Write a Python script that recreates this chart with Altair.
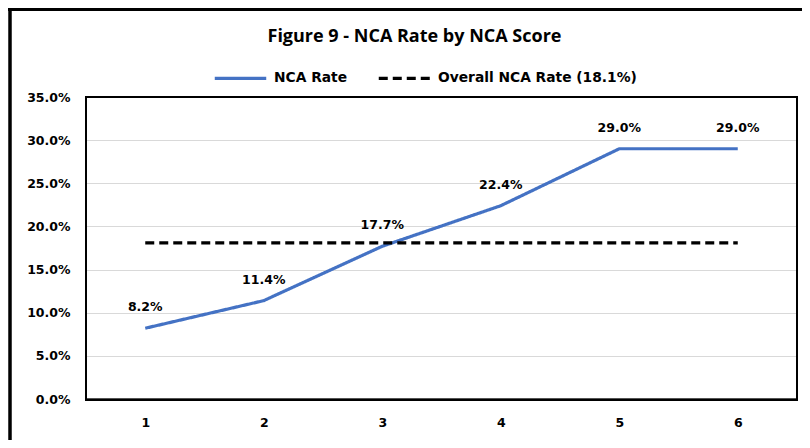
import altair as alt
import pandas as pd

scores = ["1", "2", "3", "4", "5", "6"]
nca_rate = [0.082, 0.114, 0.177, 0.224, 0.290, 0.290]
overall_rate = [0.181, 0.181, 0.181, 0.181, 0.181, 0.181]
series_names = ["NCA Rate", "Overall NCA Rate (18.1%)"]
y_ticks = [0, 0.05, 0.10, 0.15, 0.20, 0.25, 0.30, 0.35]
title_text = "Figure 9 - NCA Rate by NCA Score"

rows = []
for s, v in zip(scores, nca_rate):
    rows.append({"score": s, "series": series_names[0], "rate": v})
for s, v in zip(scores, overall_rate):
    rows.append({"score": s, "series": series_names[1], "rate": v})
df = pd.DataFrame(rows)
df_rate = df[df["series"] == series_names[0]]

FONT = "DejaVu Sans"
W, H = 711, 302

x_enc = alt.X("score:N", sort=scores, scale=alt.Scale(type="point", padding=0.5),
              axis=alt.Axis(title=None, labelAngle=0, ticks=False, labelPadding=17,
                            domainColor="#A6A6A6", domainWidth=1.8, grid=False,
                            labelFont=FONT, labelFontWeight="bold", labelFontSize=12.5,
                            labelColor="#000000"))
y_enc = alt.Y("rate:Q", scale=alt.Scale(domain=[0, 0.35], nice=False),
              axis=alt.Axis(title=None, values=y_ticks, format=".1%", ticks=False,
                            domain=False, labelPadding=16, gridColor="#D9D9D9",
                            gridWidth=1.2, labelFont=FONT, labelFontWeight="bold",
                            labelFontSize=12.5, labelColor="#000000"))

legend_opts = dict(title=None, orient="none", direction="horizontal",
                   legendX=127, legendY=-46.5,
                   symbolType="stroke", symbolSize=2650,
                   symbolStrokeWidth=3.2, labelOffset=6, labelLimit=500,
                   columnPadding=24, labelFont=FONT,
                   labelFontWeight="bold", labelFontSize=13.8,
                   labelColor="#000000")

lines = alt.Chart(df).mark_line(strokeWidth=3.2).encode(
    x=x_enc,
    y=y_enc,
    color=alt.Color("series:N", sort=series_names,
                    scale=alt.Scale(domain=series_names, range=["#4472C4", "#000000"]),
                    legend=alt.Legend(**legend_opts)),
    strokeDash=alt.StrokeDash("series:N", sort=series_names,
                              scale=alt.Scale(domain=series_names, range=[[1, 0], [9, 5]]),
                              legend=alt.Legend(**legend_opts)),
)

labels = alt.Chart(df_rate).mark_text(
    baseline="middle", dy=-21, font=FONT, fontWeight="bold", fontSize=12.5, color="#000000"
).encode(
    x=alt.X("score:N", sort=scores),
    y="rate:Q",
    text=alt.Text("rate:Q", format=".1%"),
)

title_mark = alt.Chart(alt.Data(values=[{"t": title_text}])).mark_text(
    font="Open Sans", fontSize=18, fontWeight="bold", color="#000000",
    align="center", baseline="middle"
).encode(x=alt.value(328.5), y=alt.value(-60), text="t:N")

border_data = alt.Data(values=[{"a": 1}])

border_left = alt.Chart(border_data).mark_rule(color="#000000", strokeWidth=3.5).encode(
    x=alt.value(-76), y=alt.value(-89), y2=alt.value(360))
border_top = alt.Chart(border_data).mark_rule(color="#000000", strokeWidth=3).encode(
    x=alt.value(-78), x2=alt.value(730), y=alt.value(-87.5))

plot_frame = alt.Chart(border_data).mark_rect(
    fillOpacity=0, stroke="#000000", strokeWidth=2
).encode(x=alt.value(0), x2=alt.value(W), y=alt.value(0), y2=alt.value(H + 1))

chart = alt.layer(lines, labels, title_mark, border_left, border_top,
                  plot_frame).properties(
    width=W,
    height=H,
    autosize=alt.AutoSizeParams(type="none"),
    padding={"left": 78, "top": 89, "right": 5, "bottom": 41},
    background="#FFFFFF",
).configure_view(stroke="#000000", strokeWidth=2)

chart.save("out.html", embed_options={"renderer": "svg", "actions": False})
